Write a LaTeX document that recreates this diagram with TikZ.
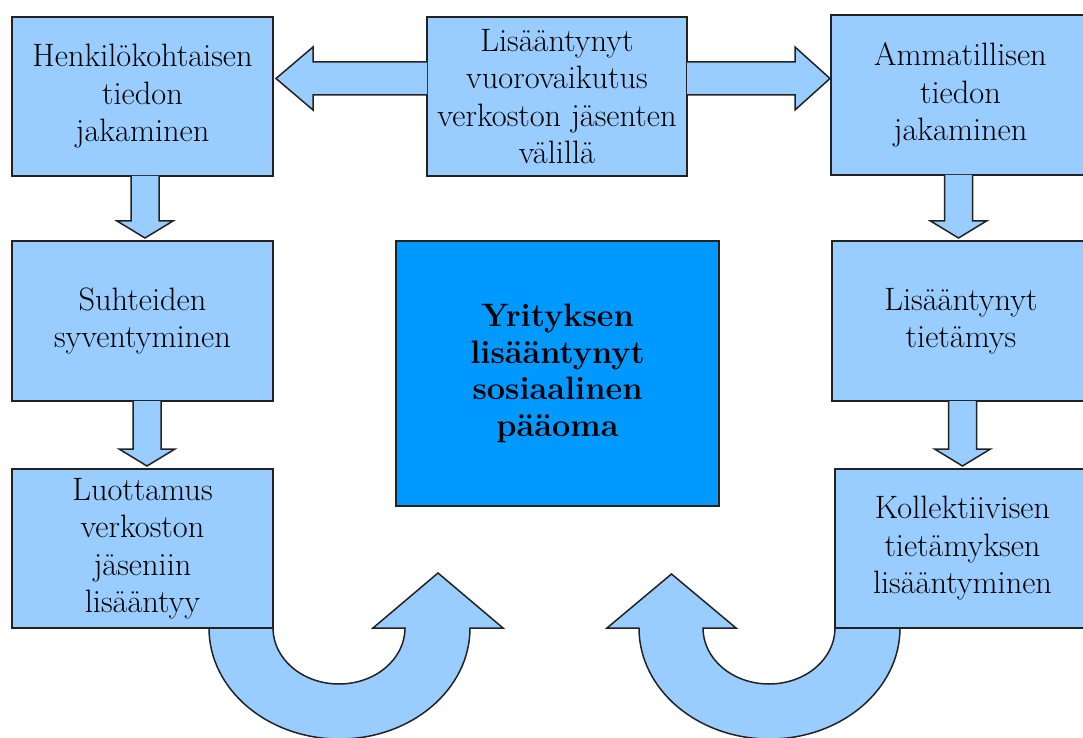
\documentclass[tikz,border=0pt]{standalone}
\usetikzlibrary{calc}
\definecolor{lb}{HTML}{99CCFF}
\definecolor{db}{HTML}{0099FF}
\definecolor{edge}{HTML}{222222}
\tikzset{
  box/.style={draw=edge, line width=0.75pt, fill=lb, inner sep=0pt, outer sep=0pt,
    align=center, font=\fontsize{16.2}{18.75}\selectfont},
  blk/.style={draw=edge, line width=0.75pt, fill=lb, line join=miter},
}
\newcommand\dnarrow[3]{%
  \draw[blk] let \p1=($(#1.south)+(#3,0pt)$), \p2=(#2.north) in
    (\x1-7pt,\y1) -- (\x1-7pt,\y2+10pt) -- (\x1-14pt,\y2+10pt) -- (\x1,\y2+1.5pt)
    -- (\x1+14pt,\y2+10pt) -- (\x1+7pt,\y2+10pt) -- (\x1+7pt,\y1);}
\begin{document}
\begin{tikzpicture}[x=0.5pt,y=-0.5pt]
\useasboundingbox (0,0) rectangle (1083,738);
\clip (0,0) rectangle (1083,738);
% boxes
\node[box, minimum width=130.5pt, minimum height=79.5pt] (tl) at (142.5,96.5) {Henkilökohtaisen\\tiedon\\jakaminen};
\node[box, minimum width=130pt, minimum height=79.5pt] (tm) at (557,96.5) {Lisääntynyt\\vuorovaikutus\\verkoston jäsenten\\välillä};
\node[box, minimum width=129.5pt, minimum height=80pt] (tr) at (960.5,95) {Ammatillisen\\tiedon\\jakaminen};
\node[box, minimum width=130.5pt, minimum height=80pt] (ml) at (142.5,321) {Suhteiden\\syventyminen};
\node[box, minimum width=129pt, minimum height=80pt] (mr) at (961,321) {Lisääntynyt\\tietämys};
\node[box, fill=db, minimum width=161.5pt, minimum height=132.5pt, font=\fontsize{16.2}{18.25}\selectfont\bfseries] (c) at (557.5,373.5) {Yrityksen\\lisääntynyt\\sosiaalinen\\pääoma};
\node[box, minimum width=130.5pt, minimum height=79.5pt] (bl) at (142.5,548.5) {Luottamus\\verkoston\\jäseniin\\lisääntyy};
\node[box, minimum width=127.5pt, minimum height=79.5pt] (br) at (962.5,548.5) {Kollektiivisen\\tietämyksen\\lisääntyminen};
% horizontal block arrows
\draw[blk] let \p1=($(tm.west)+(0,9pt)$), \p2=(tl.east) in
  (\x1,\y1+8.25pt) -- (\x2+20pt,\y1+8.25pt) -- (\x2+20pt,\y1+15.75pt) -- (\x2+1.5pt,\y1)
  -- (\x2+20pt,\y1-15.75pt) -- (\x2+20pt,\y1-8.25pt) -- (\x1,\y1-8.25pt);
\draw[blk] let \p1=($(tm.east)+(0,9pt)$), \p2=(tr.west) in
  (\x1,\y1+8.25pt) -- (\x2-18pt,\y1+8.25pt) -- (\x2-18pt,\y1+15.75pt) -- (\x2-0.5pt,\y1)
  -- (\x2-18pt,\y1-15.75pt) -- (\x2-18pt,\y1-8.25pt) -- (\x1,\y1-8.25pt);
% vertical block arrows
\dnarrow{tl}{ml}{1.25pt}
\dnarrow{ml}{bl}{2.25pt}
\dnarrow{tr}{mr}{-1pt}
\dnarrow{mr}{br}{0.75pt}
% U-turn arrows
\coordinate (lu) at (bl.south east);
\draw[blk] ($(lu)+(-64,0)$) arc[start angle=180, end angle=360, x radius=65.25pt, y radius=55.5pt]
  -- ++(33,0) -- ++(-65,-55) -- ++(-65,55) -- ++(32,0)
  arc[start angle=0, end angle=-180, x radius=33pt, y radius=28pt] -- cycle;
\coordinate (ru) at (br.south west);
\draw[blk] ($(ru)+(65,0)$) arc[start angle=0, end angle=-180, x radius=65.25pt, y radius=55.5pt]
  -- ++(-32,0) -- ++(64.5,-54) -- ++(64.5,54) -- ++(-33,0)
  arc[start angle=180, end angle=360, x radius=33pt, y radius=28pt] -- cycle;
\end{tikzpicture}
\end{document}
